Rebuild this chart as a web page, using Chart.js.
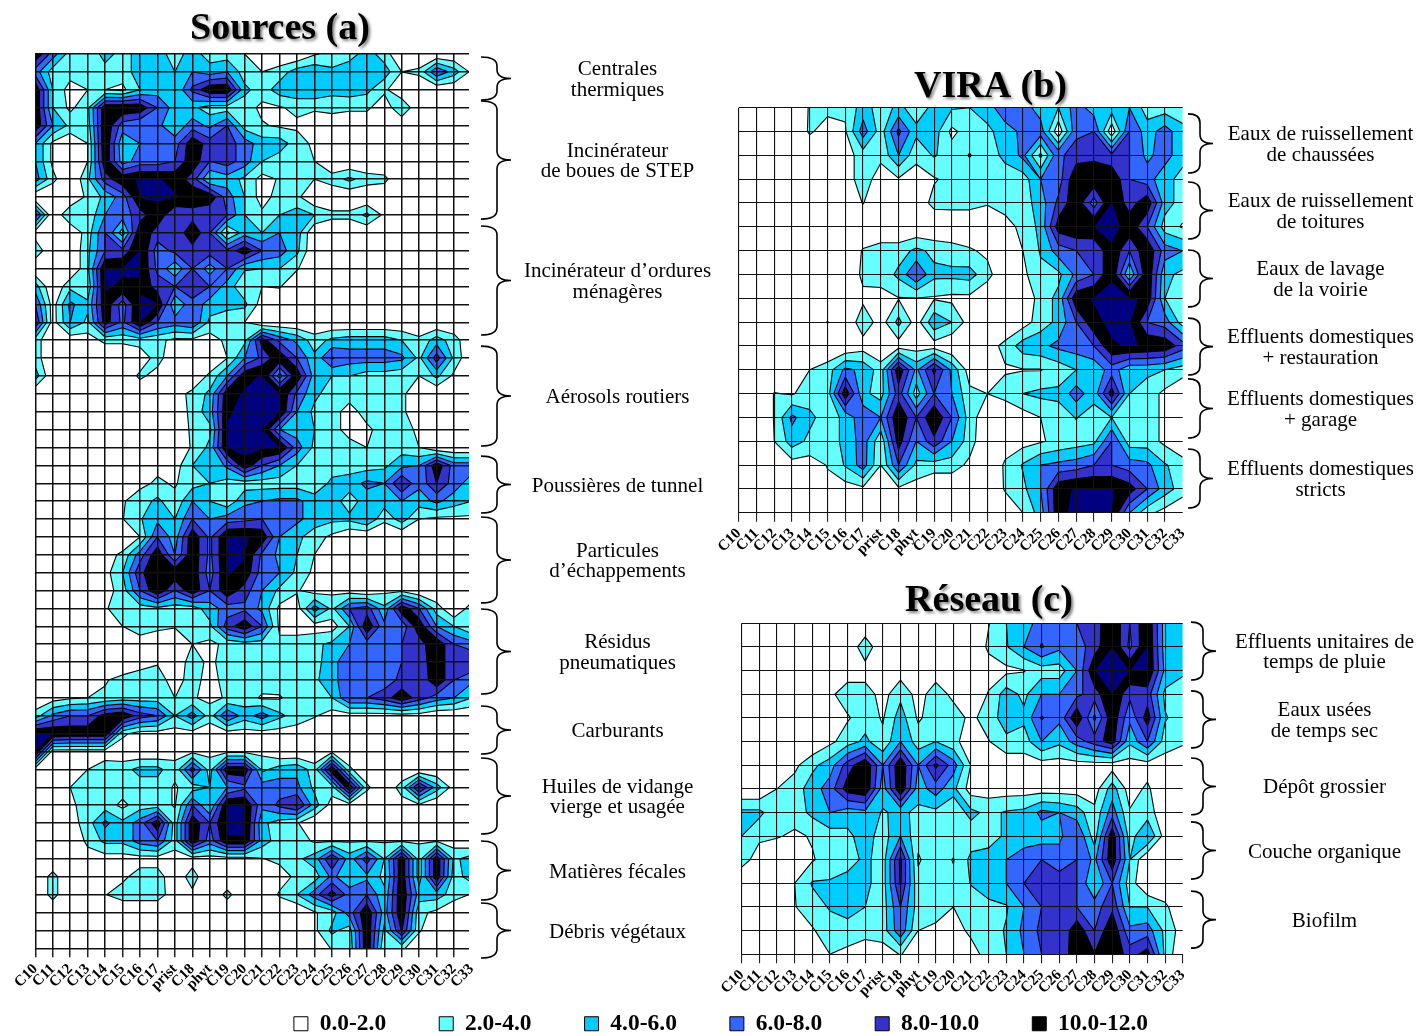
<!DOCTYPE html>
<html>
<head>
<meta charset="utf-8">
<script src="https://cdn.jsdelivr.net/npm/chart.js@4"></script>
<style>
  html, body { margin: 0; padding: 0; background: #fff; overflow: hidden; height: 100%; }
  canvas { position: absolute; }
</style>
</head>
<body>
<canvas id="legend-chart"></canvas>
<canvas id="sources-chart"></canvas>
<canvas id="vira-chart"></canvas>
<canvas id="reseau-chart"></canvas>
<script>
const compounds = ['C10','C11','C12','C13','C14','C15','C16','C17','prist','C18','phyt','C19','C20','C21','C22','C23','C24','C25','C26','C27','C28','C29','C30','C31','C32','C33'];
const bandLabels = ['0.0-2.0','2.0-4.0','4.0-6.0','6.0-8.0','8.0-10.0','10.0-12.0'];
const bandColors = ['#ffffff','#66ffff','#00ccff','#3366ff','#3333cc','#000000','#000080'];
const levels = [2,4,6,8,10,12];

// one row per sample, one value per compound, missing values at the end of a row are 0
const sourcesValues = [
  [11.8,7,3,2,5,3,5,5,3,5,3,3,2,0,0,0,1.8,2.5,3,5,3],
  [7,3,3,2.5,3,3,5,5,4,6,5,6,3,2,3,5,5.5,4.5,5.5,5.5,5,2,2.5,8,5,1.5],
  [11.8,4,1,2,2,1.5,4,5,4,8.5,11.8,11.8,4.5,3,5,5.5,5.5,4.5,5,4.5,2.5],
  [11.8,4,1.5,3.5,11.5,11.8,11.5,8,5,4.5,3,3,3,1.5,1.8,2.5,2.5,3,2.5,2.5,0.5,4],
  [11.8,6,3.5,3,11.8,7,6,6.5,4.5,7,5.5,8,3,2.2,1.7,1.6],
  [6,1.5,0,2,11.8,4.5,6,7,7,11.5,9,9,7,5,5,3,1.5],
  [6,1.5,0,2,11.5,5,7,7,8,11.5,8,9,7,4,3,3,2],
  [7,2.6,0,3.5,9,11.5,12.2,12.2,11.5,9,4,5,3.5,1.2,2.2,3,2,3,4.5,3,2.6],
  [0,0,0,2.5,4.5,7,12.2,12.2,12.2,11.5,11.5,7,4,1,3,2.5],
  [9,0,4,2.5,6,7,9,11.5,8,9,8,8,4,2.5,4,5,4,2.6,2.6,4.5,1.5],
  [1,0,0,3,8,3,11.8,9,8,11.8,8,1.5,5,4,6,5],
  [3.5,0,0,3.5,8,8.5,12.3,7,8.5,9,9,8.5,11.5,8,7,4.5],
  [0,0,0,3.5,12.2,12.2,12.2,7.5,4.5,8,5,8,4.2,4,4,2.2],
  [5,0,3.5,2.5,12.2,11.8,11.8,9,8,9,8,5,2.5,2,2.2],
  [8,1,6.5,4.5,11.5,7,12.3,12.3,4,7.5,5,4.5,4.5,1],
  [10,1,6,3.5,11,7.5,12.2,8,7,8,3.5,3,2],
  [3,0,0.5,1,2.5,2.5,3,2.5,1.5,1.5,1,2.5,3.5,11,7.5,5.5,3,4.5,5,5,5,4,2.5,5,3],
  [3,0,0,0,0,0,0.5,3,0,0,0,2,6,8.5,11.5,8,4.5,8.2,7,7,7,6.5,3.5,9,3.5],
  [5,0,0,0,0,0,2.5,1,0,0,2.5,6,11.5,12.2,5,11.5,5,4,4,3,3,2.5,2,4.5,1.5],
  [0,0,0,0,0,0,0,0,1,2.6,4.5,11.5,12.2,13,12.2,7.5,4.5,3,3,3,3,2.6],
  [0,0,0,0,0,0,0,0,0,2.8,5,11.8,12.5,13,12.2,6,3.5,3,1,3,3,2.6],
  [0,0,0,0,0,0,0,0,0,2.5,3.5,12.2,13,12.3,6,5,4,3,1,1.5,3,3,1.5],
  [0,0,0,0,0,0,0,0,0,2.3,4.5,12.2,12.5,12.5,12.2,7,3.5,3,3,2,3,3,2],
  [0,0,0,0,0,0,0,1.5,1,4,4,6.5,11.5,8,6,4,3,3,3,3,3.5,5.5,6,11.5,7,7],
  [0,0,0,0,0,0,1.5,2.3,1.8,3.2,4,3.2,3,3,3,3,2.5,4.5,5,6.5,6,10,6.5,10,7,5],
  [0,0,0,0,0,1.8,3,4.5,2.5,6,4,2.5,5.5,6,6.5,6.5,5,5,3,5,5,6,5,6.5,5,4],
  [0,0,0,0,0,1.9,3.8,5.5,4,8,6,7,7.5,8,7,6.5,5,4.5,4.5,6,2.5,5,2,1.5,1.5,1.5],
  [0,0,0,0,0,0,2,8,5,11.5,7.5,12.2,12.2,11.5,6,4.5,3,1.5],
  [0,0,0,0,1,2.5,7,11.5,6,11.5,7.5,12.2,12.2,7.5,5.5,4,2],
  [0,0,0,0,1.2,4,9.5,11.8,11.5,11.5,7,12.2,11.5,7,6,3.5,1.5],
  [0,0,0,0,1,3,8,11.8,8,11.5,8,11.5,9,6,3.5,2.2,1,1.5,1,0,1.5,1.5],
  [0,0,0,0,1.8,3,3,3.5,3,3,5,7,7.5,5.5,1.5,1,7,3.5,8,9,4.5,11.5,8,3,0,3],
  [2.15,0,0,0,0,2,3.5,2.5,2.2,3,3.5,9,11.5,8,1.5,1,1,1,4,11.8,6.5,6.5,11.5,6,4,2],
  [0,0,0,0,0,0,0.5,0.5,0,2,1.5,2.5,3,3,2.5,3,3.5,4.5,6,7,6.5,8,9,11.8,8,7],
  [0,0,0,0,0,0,1.2,1.8,0.5,3,1.5,3,3,3,3,3,3,5.5,7,7,7,8,8.5,11.8,8,10],
  [0,0,0,0,1.8,2.8,3,3,1,3,1,3,3,3,3,3,3.5,5.5,7,7,7,8.5,8,11.8,8,6.5],
  [0,1,1.7,2,2.4,3,3,3,2,2.2,1.5,2.2,3,1.7,1.8,3,3,4,8,8,9,11.5,9,7,6,4],
  [3,6.5,8,8,11,11.8,9,8,4,7,3,8,5,7,4.5,3,2.2,1,1,1,1,1,1],
  [12.5,12.1,11.5,11.5,11.5,2.5,1,1,1,1,0.5,1,1,1,1,1],
  [12.2,1,1,1,1,0.5,0,0,1.5,1.5,1.5,1.5,1.5,1.5,0,0,0,1.5],
  [1,0,0,2,3,3.2,4.7,4.7,2.5,9,3,11.5,11.5,3.5,5,5.5,3,11.8,2.5],
  [0,0,2,3,3,3,3,3,1.8,3,4,6,7.5,7,7,6.5,3.5,3,11.8,2.5,0,3,10.5,5,1],
  [0,0,1.5,3,3,1.5,3,3,1.8,8,4,12.1,12.1,6.5,8.5,10.2,5,1,1,0,0,1,1.5],
  [0,0,1,3,6.5,4.5,7,11.5,3,11.5,8,12.5,12.5,4.5,3,2.2],
  [0,0,0,2.5,4.5,4.5,7,8,3,11.5,7,11.8,11.8,5,3,3,1.7,1.8,1.8,1.8,1.8,1.8,1.8,1.8,1],
  [0,0,0,1,1,1,1,1,1,1,1,1,1,1.9,2.5,3.5,5,10,5,9,4,11.5,3,11.5,3.5,5],
  [0,2.8,0,0,0,1.5,3,3,0.5,3,0,0,0,0,1,2.5,3,6.5,4.5,5.5,3.5,11.5,3,11.5,3,5],
  [0,2.8,0,0,1.9,3,3,3,0.8,1.5,0,2.7,0,0,2.3,4,7,11,7,8,4.5,11.8,5,5,3,1.8],
  [0,0,0,0,0,0,0,0,0,0,0,0,0,0,0,0,1.8,3,7,11.8,5,11.8,2.5,1.5],
  [0,0,0,0,0,0,0,0,0,0,0,0,0,0,0,0,1.5,4.5,3,11.8,3.5,10.2,2.3],
  [0,0,0,0,0,0,0,0,0,0,0,0,0,0,0,0,0,2.2,2.5,11.8,2.2,2.5]
];

const viraValues = [
  [0,0,0,0,2.2,2.6,2.3,5,3,4.5,3,4.5,4.2,4,5,7.5,7,5,4,7,5,5,6,3,3,3],
  [0,0,0,0,2.3,1,1.8,7,3,8.5,4.5,5,1.5,3,3.5,5,6.5,7,0.5,7.5,8,0.5,8,5,7,4.5],
  [0,0,0,0,0,0,1,3,2.5,6,2.6,4.2,3,4.1,3,4.5,6.5,1.5,7.5,9,9.5,8.5,8,5.5,7,4.5],
  [0,0,0,0,0,0,1,3,1,1.8,1,1.8,2.6,3,3,3,3,6,7,11.8,11.5,11.8,8,7,4.5,3.5],
  [0,0,0,0,0,0,0,2.1,0,0,0.5,2.7,2.8,2.8,2.1,3,3,5,8.5,11.5,7,12.2,9,11.5,5,3],
  [0,0,0,0,0,0,0,0,0,0,0,0,0,0,1,1,2.7,4.5,11,11.8,12.1,12.5,11.5,8,3,1.8],
  [0,0,0,0,0,0,0,2.2,3,3,4.5,3.5,3,2.3,1.5,0,2,4.2,7,8,8,11.8,8,11.8,7,6],
  [0,0,0,0,0,0,0,2.5,2.6,4.5,8,4.5,4.5,4.8,2.8,0,1.5,3.5,3.5,6.5,8,11.8,4,11.8,4.5,3.5],
  [0,0,0,0,0,0,0,1.5,1.5,1.9,1.9,1.8,1.5,1.5,0,0,0,3,4.5,11.5,12.2,12.5,12.5,11.5,4,3],
  [0,0,0,0,0,2.1,0,3.4,1,4.6,1,5.5,4,1,0,0,1,3,4.5,8,11.5,12.5,12.5,8,7,3],
  [0,0,0,0,0,0,0,1,0,1,1,1,0,0,1,2.6,5,5.5,6.5,7,8,11.8,12.2,11.8,11.5,9],
  [0,0,0,0,2,3,6.5,5.5,3,11.5,5.5,10.5,5.5,1,0,1.8,1.9,1.9,2.8,4,4.5,7,4.5,4.5,4,3],
  [0,0,2.1,1.8,3,3,11.5,4.5,3.2,9,3,8,6,2.5,2,2.8,4,4.5,4.5,7,4.8,11,4,3,1.5],
  [0,0,2.1,6.5,4.5,3,4.5,7.5,6,11.9,8,11.9,8,3,0.5,0,1,2,3,4.1,3,4,3,3,1.5],
  [0,0,2,5,3.5,3,4.5,7,2.5,11,6,9.5,6,3,0,1,1.2,1.8,2.5,3,3.5,8,3,3,1.5],
  [0,0,0,1,1,2.1,4.2,7,2,8,3.5,3,3,1.5,0,2.3,4.2,6,6.5,7,8,8,7,6.5,4.2,3],
  [0,0,0,0,0,1.5,1,1.5,1,1.5,1,0,0,0,0,2.2,3.5,6,11.5,12.2,12.2,12.2,11,8,5,3],
  [0,0,0,0,0,0,0,0,0,0,0,0,0,0,0,0.5,2,5,11.5,12.5,12.5,12.2,6,2.6,1.2]
];

const reseauValues = [
  [0,0,0,0,0,0,0,0,0,0,0,0,0,0,1.9,4,5,7,6,8,9,11.8,8,11.8,5,4.5],
  [0,0,0,0,0,0,0,3.5,0,0,0,0,0,0,2.4,3.8,6,8.2,6.5,7,9,12.1,7.5,12.1,5,4.5],
  [0,0,0,0,0,0,1,1,0,1,0,1,0,0,1,1.5,1.9,3,3,6,12,13,12.1,12.2,5.5,4.5],
  [0,0,0,0,0,1.6,3,3,1.2,3.5,1.2,3,1.5,0,2.2,5,3.5,6,6,7.5,9,12.1,8.5,9,3.5,2.5],
  [0,0,0,0,0,0,1.8,3,1.8,5,1.7,3,3,1.5,3,5,4.5,8.2,6.5,11.8,5.5,11.5,6.5,11,4.2,3],
  [0,0,0,0,0,1.5,3,4.5,2.5,6,3,4,2.5,1,1.9,3.5,3,6,4.5,7,9,11,4.5,8,3,2.2],
  [0,0,0.5,1.5,3.5,5,9,11.8,6,11.8,6,10.5,7,1.9,0,0.5,1,1,1,1,1,1,1,1,1,1],
  [0,0,2,3,5,7,11,11.8,5,11.8,5,7,4.5,1,1,1,1,1,1,1,1,5,1,2.4],
  [4.5,4.5,2.6,3,4.5,6,5,5.5,3.8,4.5,3.5,3.5,3,4.5,3.5,4.2,4.5,6.5,6,5,2.5,7,2.2,3,0.5],
  [4,2.4,2.2,1.6,2.2,3,3.5,5,3,6,2.5,3,3,3,3.5,4.2,5,5,5.5,8,3,11.5,3,6.2,1],
  [2.9,1,0,1,1.8,3,3,4.5,3,10.5,1.8,3,1.9,4.5,4.5,6,7,8,7,8,5.5,11.5,4],
  [0,0,0,2,4.2,4.2,5,4.5,3,10.2,2.5,3,2.5,4.1,5,6,8,8,9,8,4,8,3],
  [0,0,0,1.9,3,4.2,5,4,3,8,3,3,2,3,3.5,3.8,6,8,8,8,7,9.5,4,4,2.5],
  [0,0,0,0,1.8,3,3,2.6,3,7.5,2,1.5,1,2.5,3,4.2,6.5,8.5,8,11.5,8,11.8,6.5,7,3.5,1],
  [0,0,0,0,0,2,1.5,1,1,2.1,1,0,0,1,3,4,6,8,8,11.8,10.1,11.8,9,11,3.5]
];

// curly brace groups: text lines and the span of rows they cover
const sourcesGroups = [
  { lines: ['Centrales','thermiques'], from: 0.17, to: 2.57 },
  { lines: ['Incinérateur','de boues de STEP'], from: 2.63, to: 9.23 },
  { lines: ['Incinérateur d’ordures','ménagères'], from: 9.62, to: 15.71 },
  { lines: ['Aérosols routiers'], from: 16.33, to: 21.92 },
  { lines: ['Poussières de tunnel'], from: 22.48, to: 25.66 },
  { lines: ['Particules','d’échappements'], from: 25.89, to: 30.69 },
  { lines: ['Résidus','pneumatiques'], from: 31.03, to: 35.78 },
  { lines: ['Carburants'], from: 36.45, to: 39.14 },
  { lines: ['Huiles de vidange','vierge et usagée'], from: 39.36, to: 43.61 },
  { lines: ['Matières fécales'], from: 44, to: 47.3 },
  { lines: ['Débris végétaux'], from: 47.47, to: 50.54 }
];
const viraGroups = [
  { lines: ['Eaux de ruissellement','de chaussées'], from: 0.26, to: 2.74 },
  { lines: ['Eaux de ruissellement','de toitures'], from: 3.12, to: 5.51 },
  { lines: ['Eaux de lavage','de la voirie'], from: 5.97, to: 8.36 },
  { lines: ['Effluents domestiques','+ restauration'], from: 8.83, to: 11.22 },
  { lines: ['Effluents domestiques','+ garage'], from: 11.38, to: 13.86 },
  { lines: ['Effluents domestiques','stricts'], from: 14.32, to: 16.8 }
];
const reseauGroups = [
  { lines: ['Effluents unitaires de','temps de pluie'], from: -0.05, to: 2.4 },
  { lines: ['Eaux usées','de temps sec'], from: 2.86, to: 5.27 },
  { lines: ['Dépôt grossier'], from: 5.7, to: 8.1 },
  { lines: ['Couche organique'], from: 8.4, to: 10.82 },
  { lines: ['Biofilm'], from: 11.33, to: 13.74 }
];

const serif = '"Liberation Serif", "Times New Roman", serif';

// filled contours, cell by cell, positions come from the chart scales
const contourPlugin = (rows, cropX) => ({
  id: 'contour',
  beforeDatasetsDraw(chart) {
    const { ctx, chartArea: area, scales: { x, y } } = chart;
    const val = (c, r) => rows[r][c] ?? 0;
    const outlines = new Path2D();
    ctx.save();
    ctx.beginPath();
    ctx.rect(area.left, area.top, area.width, area.height);
    ctx.clip();
    levels.forEach((level, k) => {
      ctx.beginPath();
      for (let r = 0; r < rows.length - 1; r++) {
        for (let c = 0; c < compounds.length - 1; c++) {
          const corners = [[c, r], [c + 1, r], [c + 1, r + 1], [c, r + 1]];
          const poly = [];
          corners.forEach((a, i) => {
            const b = corners[(i + 1) % 4];
            const va = val(a[0], a[1]), vb = val(b[0], b[1]);
            if (va >= level) poly.push({ c: a[0], r: a[1], cut: false });
            if ((va >= level) !== (vb >= level)) {
              const t = (level - va) / (vb - va);
              poly.push({ c: a[0] + (b[0] - a[0]) * t, r: a[1] + (b[1] - a[1]) * t, cut: true });
            }
          });
          if (!poly.length) continue;
          const pts = poly.map(p => ({ x: x.getPixelForValue(p.c), y: y.getPixelForValue(p.r), cut: p.cut }));
          pts.forEach((p, i) => i ? ctx.lineTo(p.x, p.y) : ctx.moveTo(p.x, p.y));
          ctx.closePath();
          pts.forEach((p, i) => {
            const q = pts[(i + 1) % pts.length];
            if (p.cut && q.cut) { outlines.moveTo(p.x, p.y); outlines.lineTo(q.x, q.y); }
          });
        }
      }
      ctx.fillStyle = bandColors[k + 1];
      ctx.fill();
    });
    ctx.strokeStyle = '#000';
    ctx.lineWidth = 1.1;
    ctx.stroke(outlines);
    ctx.restore();
  },
  afterDraw(chart) {
    if (!cropX) return;
    const a = chart.chartArea;
    chart.ctx.clearRect(cropX, a.top - 2, a.right - cropX + 3, a.height + 4);
  }
});

// title with its soft shadow, braces and the group names
const textPlugin = (p) => ({
  id: 'panelText',
  afterDraw(chart) {
    const { ctx, scales: { y } } = chart;
    ctx.save();
    ctx.fillStyle = '#000';
    ctx.textAlign = 'center';
    ctx.textBaseline = 'alphabetic';
    ctx.font = `bold 38px ${serif}`;
    ctx.shadowColor = 'rgba(0,0,0,0.5)';
    ctx.shadowOffsetX = 2;
    ctx.shadowOffsetY = 2;
    ctx.shadowBlur = 3;
    ctx.fillText(p.title, p.titleX - p.left, p.titleY - p.top);
    ctx.shadowColor = 'transparent';
    ctx.font = `21px ${serif}`;
    ctx.textBaseline = 'middle';
    ctx.strokeStyle = '#000';
    ctx.lineWidth = 1.6;
    const x0 = p.brace[0] - p.left, xm = p.brace[1] - p.left, xt = p.brace[2] - p.left;
    p.groups.forEach(g => {
      const y0 = y.getPixelForValue(g.from), y1 = y.getPixelForValue(g.to), yc = (y0 + y1) / 2;
      const bend = 9;
      ctx.beginPath();
      ctx.moveTo(x0, y0);
      ctx.quadraticCurveTo(xm, y0, xm, y0 + bend);
      ctx.lineTo(xm, yc - bend);
      ctx.quadraticCurveTo(xm, yc, xt, yc);
      ctx.quadraticCurveTo(xm, yc, xm, yc + bend);
      ctx.lineTo(xm, y1 - bend);
      ctx.quadraticCurveTo(xm, y1, x0, y1);
      ctx.stroke();
      g.lines.forEach((line, i) => {
        ctx.fillText(line, p.labelX - p.left, yc + 1.5 + (i - (g.lines.length - 1) / 2) * 20.5);
      });
    });
    ctx.restore();
  }
});

function drawPanel(p) {
  const canvas = document.getElementById(p.id);
  canvas.width = p.width;
  canvas.height = p.height;
  canvas.style.left = p.left + 'px';
  canvas.style.top = p.top + 'px';
  const axisHeight = 50;
  const last = compounds.length - 1;
  return new Chart(canvas, {
    type: 'scatter',
    data: {
      datasets: [{
        label: p.title,
        pointRadius: 0,
        data: p.rows.flatMap((row, r) => compounds.map((name, c) => ({ x: name, y: r, v: row[c] ?? 0 })))
      }]
    },
    plugins: [contourPlugin(p.rows, p.cropX), textPlugin(p)],
    options: {
      responsive: false,
      animation: false,
      events: [],
      layout: {
        autoPadding: false,
        padding: {
          left: p.plot.left - p.left,
          top: p.plot.top - p.top,
          right: p.left + p.width - p.plot.right,
          bottom: p.top + p.height - p.plot.bottom - axisHeight
        }
      },
      plugins: { legend: { display: false }, tooltip: { enabled: false } },
      scales: {
        x: {
          type: 'category',
          labels: compounds,
          afterFit: s => { s.height = axisHeight; },
          border: { display: false },
          grid: {
            z: 1,
            lineWidth: p.gridWidth,
            tickLength: 9,
            color: c => c.index === last ? 'transparent' : '#111',
            tickColor: c => c.index === last && p.cropX ? 'transparent' : '#222'
          },
          ticks: {
            autoSkip: false,
            maxRotation: 45,
            minRotation: 45,
            padding: 3,
            color: '#000',
            font: { family: serif, size: 15, weight: 'bold' }
          }
        },
        y: {
          type: 'linear',
          reverse: true,
          min: 0,
          max: p.rows.length - 1,
          afterFit: s => { s.width = 0; },
          border: { display: false },
          grid: { z: 1, lineWidth: p.gridWidth, color: '#111', drawTicks: false },
          ticks: { display: false, stepSize: 1, autoSkip: false }
        }
      }
    }
  });
}

drawPanel({
  id: 'sources-chart', title: 'Sources (a)', rows: sourcesValues, groups: sourcesGroups,
  left: 0, top: 0, width: 722, height: 1005,
  plot: { left: 35.3, right: 471.5, top: 54, bottom: 948.3 }, cropX: 468.5,
  titleX: 280, titleY: 39, labelX: 617.5, brace: [481, 497, 511], gridWidth: 1.5
});
drawPanel({
  id: 'vira-chart', title: 'VIRA (b)', rows: viraValues, groups: viraGroups,
  left: 700, top: 60, width: 721, height: 510,
  plot: { left: 738.7, right: 1182.7, top: 107.7, bottom: 512.8 }, cropX: 1181,
  titleX: 990.5, titleY: 97, labelX: 1320.5, brace: [1188, 1200, 1213], gridWidth: 1.1
});
drawPanel({
  id: 'reseau-chart', title: 'Réseau (c)', rows: reseauValues, groups: reseauGroups,
  left: 700, top: 575, width: 721, height: 430,
  plot: { left: 741.7, right: 1182.7, top: 623.3, bottom: 954.3 }, cropX: 0,
  titleX: 989, titleY: 611, labelX: 1324.5, brace: [1191, 1203, 1216], gridWidth: 1.1
});

// the shared legend at the foot of the page
const legendCanvas = document.getElementById('legend-chart');
legendCanvas.width = 1400;
legendCanvas.height = 300;
legendCanvas.style.left = '21px';
legendCanvas.style.top = '959px';
new Chart(legendCanvas, {
  type: 'bar',
  data: {
    labels: [],
    datasets: bandLabels.map((label, i) => ({
      label, data: [], backgroundColor: bandColors[i], borderColor: '#000', borderWidth: 1
    }))
  },
  options: {
    responsive: false,
    animation: false,
    events: [],
    scales: { x: { display: false }, y: { display: false } },
    plugins: {
      tooltip: { enabled: false },
      legend: {
        position: 'top',
        labels: {
          boxWidth: 14,
          boxHeight: 14,
          padding: 53,
          color: '#000',
          font: { family: serif, size: 23.5, weight: 'bold' }
        }
      }
    }
  }
});
</script>
</body>
</html>
